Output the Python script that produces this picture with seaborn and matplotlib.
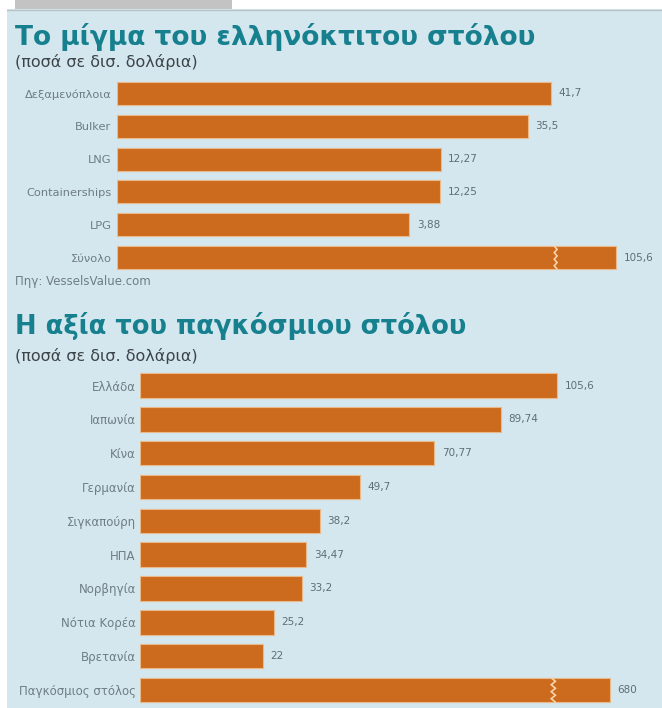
import matplotlib
matplotlib.use("Agg")
import numpy as np
import pandas as pd
import seaborn as sns
import matplotlib.pyplot as plt
from matplotlib.patches import Rectangle
from matplotlib.lines import Line2D

# --- data -------------------------------------------------------------
mix_categories = ["Δεξαμενόπλοια", "Bulker", "LNG", "Containerships", "LPG", "Σύνολο"]
mix_values = [41.7, 35.5, 12.27, 12.25, 3.88, 105.6]

fleet_countries = ["Ελλάδα", "Ιαπωνία", "Κίνα", "Γερμανία", "Σιγκαπούρη", "ΗΠΑ",
                   "Νορβηγία", "Νότια Κορέα", "Βρετανία", "Παγκόσμιος στόλος"]
fleet_values = [105.6, 89.74, 70.77, 49.7, 38.2, 34.47, 33.2, 25.2, 22, 680]

# --- style ------------------------------------------------------------
PANEL = "#d4e6ee"
BAR = "#cc6a1d"
EDGE = "#eab98a"
TEAL = "#17808e"
LABEL = "#6f7d84"
VALUE = "#5f6e76"

sns.set_theme(style="white")
plt.rcParams["font.family"] = ["DejaVu Sans"]

W, H = 662, 708
fig = plt.figure(figsize=(W / 100, H / 100), dpi=100)
fig.patch.set_facecolor("white")


def px_rect(x0, y_top, w, h):
    """Figure-fraction rectangle from pixel coordinates (origin top-left)."""
    return [x0 / W, 1 - (y_top + h) / H, w / W, h / H]


# background panel, header tab and top rule
fig.add_artist(Rectangle((7 / W, 0), (W - 7) / W, (H - 9) / H, transform=fig.transFigure,
                         facecolor=PANEL, edgecolor="none", zorder=0))
fig.add_artist(Rectangle((15 / W, 1 - 9 / H), 217 / W, 9 / H, transform=fig.transFigure,
                         facecolor="#c3c3c3", edgecolor="none", zorder=0))
fig.add_artist(Line2D([7 / W, 1], [1 - 9.5 / H] * 2, transform=fig.transFigure,
                      color="#b9c3c7", lw=1, zorder=1))


def broken_scale(brk, squeeze):
    def fwd(x):
        x = np.asarray(x, dtype=float)
        return np.where(x <= brk, x, brk + (x - brk) * squeeze)

    def inv(y):
        y = np.asarray(y, dtype=float)
        return np.where(y <= brk, y, brk + (y - brk) / squeeze)

    return fwd, inv


def fmt(v):
    return f"{v:g}".replace(".", ",")


def draw_panel(ax, cats, vals, base, brk, squeeze, right, zig, width, label_size, pad):
    df = pd.DataFrame({"category": cats, "value": vals})
    sns.barplot(data=df, x="value", y="category", ax=ax, color=BAR, saturation=1,
                width=width, edgecolor=EDGE, linewidth=0.8)
    # bars share a common stub that starts left of zero
    for bar in ax.patches:
        bar.set_x(-base)
        bar.set_width(bar.get_width() + base)
    fwd, inv = broken_scale(brk, squeeze)
    ax.set_xscale("function", functions=(fwd, inv))
    ax.set_xlim(-base, float(inv(right)))
    ax.set_ylim(len(cats) - 0.5, -0.5)

    for i, v in enumerate(vals):
        ax.annotate(fmt(v), xy=(v, i), xytext=(5.5, 0), textcoords="offset points",
                    ha="left", va="center", fontsize=7.5, color=VALUE)
        if v > brk:
            # zigzag break mark across the truncated bar
            k = np.arange(8)
            ys = i - width / 2 + k * width / 7
            xs = zig + np.where(k % 2 == 0, -0.6, 0.6)
            ax.plot(xs, ys, color="#f7d3ac", lw=1.2, solid_joinstyle="miter")

    ax.set_xlabel("")
    ax.set_ylabel("")
    ax.set_xticks([])
    ax.tick_params(axis="y", length=0, pad=pad, labelsize=label_size, labelcolor=LABEL)
    for s in ax.spines.values():
        s.set_visible(False)
    ax.patch.set_alpha(0)


# --- chart 1: composition of the Greek-owned fleet ------------------------
ax1 = fig.add_axes(px_rect(117, 77, 540, 197))
draw_panel(ax1, mix_categories, mix_values, base=74, brk=43.2, squeeze=0.255,
           right=70, zig=43.2, width=0.7, label_size=8.2, pad=4)

# --- chart 2: value of world fleets ---------------------------------------
ax2 = fig.add_axes(px_rect(140, 368.6, 520, 338.3))
draw_panel(ax2, fleet_countries, fleet_values, base=12.8, brk=105.6, squeeze=0.0263,
           right=134.9, zig=104.6, width=0.72, label_size=8.5, pad=3)

# --- titles and notes -----------------------------------------------------
def ftext(x, y_base, s, **kw):
    fig.text(x / W, 1 - y_base / H, s, va="baseline", ha="left", **kw)


ftext(15, 45, "Το μίγμα του ελληνόκτιτου στόλου", fontsize=19, fontweight="bold", color=TEAL)
ftext(15, 67, "(ποσά σε δισ. δολάρια)", fontsize=11.5, color="#3c4448")
ftext(15, 285, "Πηγ: VesselsValue.com", fontsize=8.5, color=LABEL)
ftext(15, 334, "Η αξία του παγκόσμιου στόλου", fontsize=18.5, fontweight="bold", color=TEAL)
ftext(15, 361, "(ποσά σε δισ. δολάρια)", fontsize=11.5, color="#3c4448")

fig.savefig("out.png", dpi=100, facecolor=fig.get_facecolor())
